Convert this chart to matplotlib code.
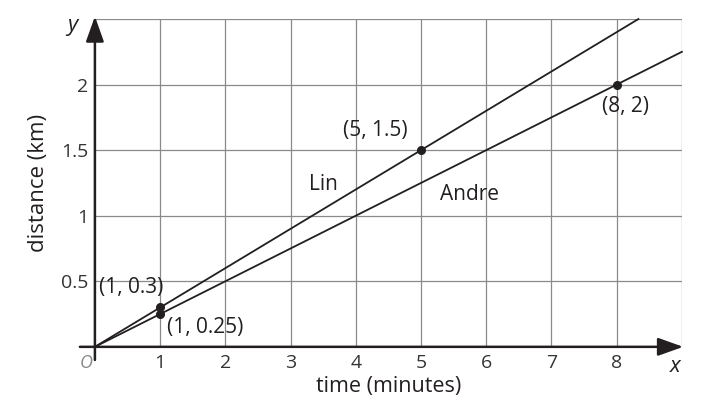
import numpy as np
import matplotlib.pyplot as plt

plt.rcParams['font.family'] = ['Open Sans', 'DejaVu Sans']

# data
lin_x = [0, 25 / 3]
lin_y = [0, 2.5]
andre_x = [0, 9]
andre_y = [0, 2.25]
pt_x = [1, 1, 5, 8]
pt_y = [0.3, 0.25, 1.5, 2]
pt_labels = ['(1, 0.3)', '(1, 0.25)', '(5, 1.5)', '(8, 2)']
xticks = [1, 2, 3, 4, 5, 6, 7, 8]
yticks = [0.5, 1, 1.5, 2]

fig = plt.figure(figsize=(7.03, 4.09), dpi=100)
ax = fig.add_axes([0.135, 0.152, 0.835, 0.8015])
ax.set_xlim(0, 9)
ax.set_ylim(0, 2.5)

# grid
for gx in range(1, 10):
    ax.plot([gx, gx], [0, 2.5], color='#8a8a8a', lw=0.9, zorder=1)
for gy in [0.5, 1, 1.5, 2, 2.5]:
    ax.plot([0, 9], [gy, gy], color='#8a8a8a', lw=0.9, zorder=1)

for s in ax.spines.values():
    s.set_visible(False)

ax.set_xticks(xticks)
ax.set_xticklabels([str(t) for t in xticks])
ax.set_yticks(yticks)
ax.set_yticklabels(['0.5', '1', '1.5', '2'])
ax.tick_params(length=0, labelsize=14, colors='#333333', pad=5)

# axes with arrows
ax.annotate('', xy=(9.02, 0), xytext=(-0.23, 0),
            arrowprops=dict(arrowstyle='-|>,head_length=0.7,head_width=0.25',
                            color='#231f20', lw=1.8,
                            mutation_scale=22, shrinkA=0, shrinkB=0),
            annotation_clip=False, zorder=4)
ax.annotate('', xy=(0, 2.52), xytext=(0, -0.1),
            arrowprops=dict(arrowstyle='-|>,head_length=0.7,head_width=0.25',
                            color='#231f20', lw=1.8,
                            mutation_scale=22, shrinkA=0, shrinkB=0),
            annotation_clip=False, zorder=4)

ax.plot(lin_x, lin_y, color='#231f20', lw=1.3, zorder=3, clip_on=False)
ax.plot(andre_x, andre_y, color='#231f20', lw=1.3, zorder=3, clip_on=False)
ax.plot(pt_x, pt_y, 'o', color='#231f20', ms=5.5, zorder=5)

offsets = [(-0.93, 0.15), (0.1, -0.105), (-1.2, 0.15), (-0.22, -0.17)]
for x, y, lab, (dx, dy) in zip(pt_x, pt_y, pt_labels, offsets):
    ax.text(x + dx, y + dy, lab, fontsize=15, color='#231f20',
            ha='left', va='center', zorder=6)

ax.text(3.5, 1.24, 'Lin', fontsize=15, color='#231f20', ha='center',
        va='center')
ax.text(5.75, 1.16, 'Andre', fontsize=15, color='#231f20', ha='center',
        va='center')

ax.text(-0.14, -0.12, 'O', fontsize=13, color='#888888', style='italic',
        ha='center', va='center')
ax.text(8.9, -0.15, 'x', fontsize=16, color='#231f20', style='italic',
        ha='center', va='center')
ax.text(-0.34, 2.45, 'y', fontsize=16, color='#231f20', style='italic',
        ha='center', va='center')

ax.set_xlabel('time (minutes)', fontsize=15.5, color='#231f20', labelpad=3)
ax.set_ylabel('distance (km)', fontsize=16, color='#231f20', labelpad=8)

fig.savefig('out.png', dpi=100)
